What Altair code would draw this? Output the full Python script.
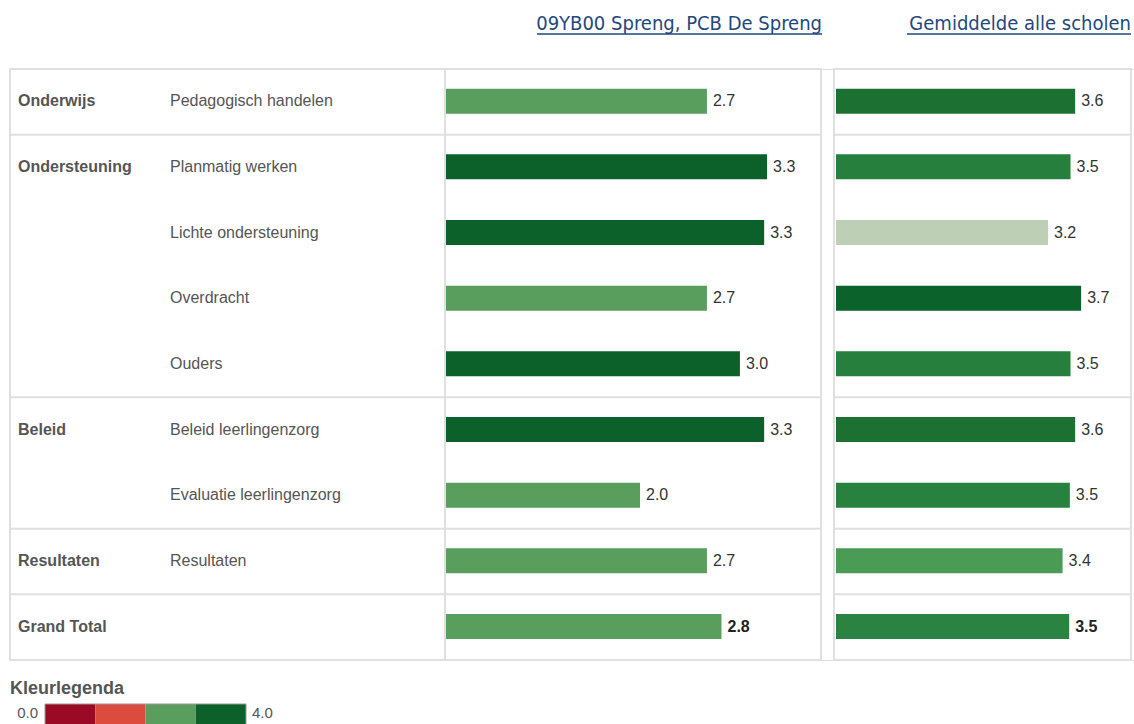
import altair as alt
import pandas as pd

# ---------------- data ----------------
groups = ["Onderwijs", "Ondersteuning", "", "", "", "Beleid", "", "Resultaten", "Grand Total"]
subs = ["Pedagogisch handelen", "Planmatig werken", "Lichte ondersteuning", "Overdracht",
        "Ouders", "Beleid leerlingenzorg", "Evaluatie leerlingenzorg", "Resultaten", ""]
school = [2.69, 3.31, 3.28, 2.69, 3.03, 3.28, 2.00, 2.69, 2.84]
average = [3.61, 3.54, 3.20, 3.70, 3.54, 3.61, 3.53, 3.42, 3.52]
group_boundaries = [1, 5, 7, 8]
titles = ["09YB00 Spreng, PCB De Spreng", "Gemiddelde alle scholen"]
legend_lo = [0, 1, 2, 3]
legend_hi = [1, 2, 3, 4]
legend_labels = ["0.0", "4.0"]

# ---------------- styling ----------------
W, H = 1124, 591
FONT = "Liberation Sans, Arial, sans-serif"
TFONT = "Liberation Sans Narrow, DejaVu Sans Condensed, DejaVu Sans, sans-serif"
GRID = "#e0e0e0"
LABEL = "#555555"
VALUE = "#333333"
LINK = "#1f497d"
step_colors = ["#9a0a24", "#dc4b3e", "#5a9e5e", "#0b6129"]
avg_domain = [3.2, 3.42, 3.52, 3.61, 3.7]
avg_colors = ["#bdd0b5", "#4a9b55", "#2a8340", "#1b7032", "#0b622a"]

rows = list(range(len(subs)))
df = pd.DataFrame({
    "group": groups, "sub": subs, "school": school, "average": average, "row": rows,
})
df["top"] = df["row"] + 0.30
df["bot"] = df["row"] + 0.68
df["mid"] = df["row"] + 0.49
df["total"] = df["row"] == len(rows) - 1

bdf = pd.DataFrame({"b": group_boundaries})
ldf = pd.DataFrame({"lo": legend_lo, "hi": legend_hi})
tdf = pd.DataFrame({"t": titles, "xr": [812, 1121], "xl": [527, 897]})

yscale = alt.Scale(domain=[0, len(rows)], reverse=True)
left_x = alt.Scale(domain=[0, 4], range=[436, 824])
right_x = alt.Scale(domain=[0, 4], range=[826, 1091])
step_scale = alt.Scale(type="threshold", domain=[1, 2, 3], range=step_colors)
avg_scale = alt.Scale(domain=avg_domain, range=avg_colors)

base = alt.Chart(df)
one = pd.DataFrame({"k": [0]})

# frames and lines
frame_left = alt.Chart(one).mark_rect(
    fillOpacity=0, stroke=GRID, strokeWidth=2
).encode(x=alt.value(0), x2=alt.value(811), y=alt.value(0), y2=alt.value(H))
frame_right = alt.Chart(one).mark_rect(
    fillOpacity=0, stroke=GRID, strokeWidth=2
).encode(x=alt.value(824), x2=alt.value(1121), y=alt.value(0), y2=alt.value(H))
divider = alt.Chart(one).mark_rule(
    stroke=GRID, strokeWidth=2
).encode(x=alt.value(435), y=alt.value(0), y2=alt.value(H))
hl_left = alt.Chart(bdf).mark_rule(stroke=GRID, strokeWidth=2).encode(
    y=alt.Y("b:Q", scale=yscale, axis=None), x=alt.value(0), x2=alt.value(811))
hl_right = alt.Chart(bdf).mark_rule(stroke=GRID, strokeWidth=2).encode(
    y=alt.Y("b:Q", scale=yscale, axis=None), x=alt.value(824), x2=alt.value(1121))

# row labels
group_text = base.mark_text(align="left", baseline="middle", font=FONT, fontSize=16,
                            fontWeight="bold", color=LABEL).encode(
    x=alt.value(8), y=alt.Y("mid:Q", scale=yscale, axis=None), text="group:N")
sub_text = base.mark_text(align="left", baseline="middle", font=FONT, fontSize=16,
                          color=LABEL).encode(
    x=alt.value(160), y=alt.Y("mid:Q", scale=yscale, axis=None), text="sub:N")

# left bars
left_bars = base.mark_rect().encode(
    x=alt.X("school:Q", scale=left_x, axis=None), x2=alt.datum(0),
    y=alt.Y("top:Q", scale=yscale, axis=None), y2="bot:Q",
    color=alt.Color("school:Q", scale=step_scale, legend=None))
left_lab = base.transform_filter("!datum.total").mark_text(
    align="left", baseline="middle", dx=6, font=FONT, fontSize=16, color=VALUE).encode(
    x=alt.X("school:Q", scale=left_x, axis=None),
    y=alt.Y("mid:Q", scale=yscale, axis=None),
    text=alt.Text("school:Q", format=".1f"))
left_lab_tot = base.transform_filter("datum.total").mark_text(
    align="left", baseline="middle", dx=6, font=FONT, fontSize=16, fontWeight="bold",
    color="#222222").encode(
    x=alt.X("school:Q", scale=left_x, axis=None),
    y=alt.Y("mid:Q", scale=yscale, axis=None),
    text=alt.Text("school:Q", format=".1f"))

# right bars
right_bars = base.mark_rect().encode(
    x=alt.X("average:Q", scale=right_x, axis=None), x2=alt.datum(0),
    y=alt.Y("top:Q", scale=yscale, axis=None), y2="bot:Q",
    color=alt.Color("average:Q", scale=avg_scale, legend=None))
right_lab = base.transform_filter("!datum.total").mark_text(
    align="left", baseline="middle", dx=6, font=FONT, fontSize=16, color=VALUE).encode(
    x=alt.X("average:Q", scale=right_x, axis=None),
    y=alt.Y("mid:Q", scale=yscale, axis=None),
    text=alt.Text("average:Q", format=".1f"))
right_lab_tot = base.transform_filter("datum.total").mark_text(
    align="left", baseline="middle", dx=6, font=FONT, fontSize=16, fontWeight="bold",
    color="#222222").encode(
    x=alt.X("average:Q", scale=right_x, axis=None),
    y=alt.Y("mid:Q", scale=yscale, axis=None),
    text=alt.Text("average:Q", format=".1f"))

# titles (link style)
title_text = alt.Chart(tdf).mark_text(align="right", baseline="alphabetic", font=TFONT,
                                      fontSize=20, color=LINK).encode(
    x=alt.X("xr:Q", scale=None), y=alt.value(-39), text="t:N")
title_line = alt.Chart(tdf).mark_rule(stroke=LINK, strokeWidth=1.5).encode(
    x=alt.X("xl:Q", scale=None), x2="xr:Q", y=alt.value(-35))

# colour legend
leg_title = alt.Chart(pd.DataFrame({"t": ["Kleurlegenda"]})).mark_text(
    align="left", baseline="middle", font=FONT, fontSize=18, fontWeight="bold",
    color=LABEL).encode(x=alt.value(0), y=alt.value(620), text="t:N")
leg_boxes = alt.Chart(ldf).mark_rect().encode(
    x=alt.X("lo:Q", scale=alt.Scale(domain=[0, 4], range=[35, 236]), axis=None),
    x2="hi:Q", y=alt.value(635), y2=alt.value(662),
    color=alt.Color("lo:Q", scale=step_scale, legend=None))
leg_border = alt.Chart(one).mark_rect(
    fillOpacity=0, stroke="#999999", strokeWidth=1).encode(
    x=alt.value(35), x2=alt.value(236), y=alt.value(635), y2=alt.value(662))
leg_lo = alt.Chart(pd.DataFrame({"t": [legend_labels[0]]})).mark_text(
    align="right", baseline="middle", font=FONT, fontSize=15, color=LABEL).encode(
    x=alt.value(28), y=alt.value(644), text="t:N")
leg_hi = alt.Chart(pd.DataFrame({"t": [legend_labels[1]]})).mark_text(
    align="left", baseline="middle", font=FONT, fontSize=15, color=LABEL).encode(
    x=alt.value(242), y=alt.value(644), text="t:N")

chart = alt.layer(
    frame_left, frame_right, divider, hl_left, hl_right,
    group_text, sub_text,
    left_bars, left_lab, left_lab_tot,
    right_bars, right_lab, right_lab_tot,
    title_text, title_line,
    leg_title, leg_boxes, leg_border, leg_lo, leg_hi,
).resolve_scale(x="independent", color="independent").properties(
    width=W, height=H,
    autosize=alt.AutoSizeParams(type="none"),
    padding={"left": 10, "top": 69, "right": 0, "bottom": 64},
).configure_view(stroke=None).configure(background="white")

chart.save("out.html", embed_options={"renderer": "svg", "actions": False})
